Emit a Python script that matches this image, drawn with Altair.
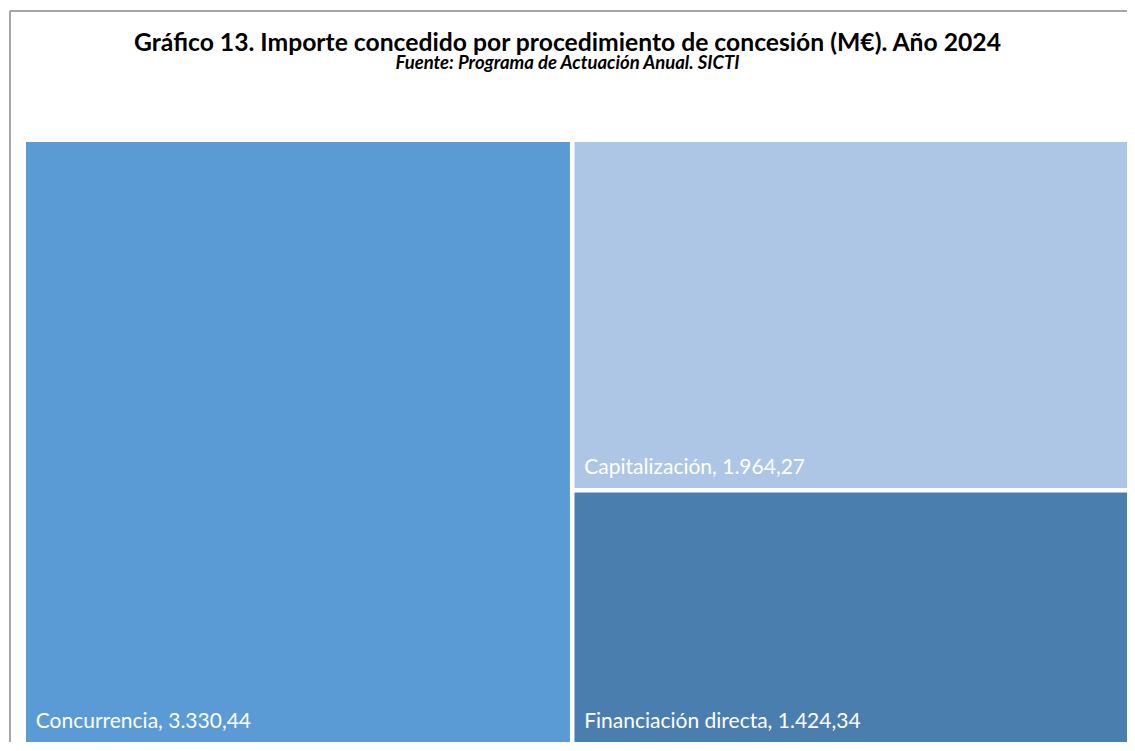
import altair as alt
import pandas as pd

# ---- data ----
categories = ["Concurrencia", "Capitalización", "Financiación directa"]
values = [3330.44, 1964.27, 1424.34]
colors = ["#5B9BD5", "#ADC6E5", "#4A7EAF"]

title_text = "Gráfico 13. Importe concedido por procedimiento de concesión (M€). Año 2024"
subtitle_text = "Fuente: Programa de Actuación Anual. SICTI"


def fmt_es(v):
    s = f"{v:,.2f}"
    return s.replace(",", "X").replace(".", ",").replace("X", ".")


# ---- slice-and-dice treemap layout computed from the values ----
total = sum(values)
right_total = values[1] + values[2]
split = values[1] / right_total
df = pd.DataFrame({
    "cat": categories,
    "value": values,
    "x0": [0, values[0], values[0]],
    "x1": [values[0], total, total],
    "y0": [0, 0, split],
    "y1": [1, split, 1],
    "label": [f"{c}, {fmt_es(v)}" for c, v in zip(categories, values)],
})

W, H = 1119, 734
xscale = alt.Scale(domain=[0, total], range=[15.75, 1122.25], nice=False, zero=False)
yscale = alt.Scale(domain=[0, 1], range=[131.75, 736.25], nice=False, zero=False)

base = alt.Chart(df)

rects = base.mark_rect(stroke="white", strokeWidth=4.5).encode(
    x=alt.X("x0:Q", scale=xscale, axis=None),
    x2="x1:Q",
    y=alt.Y("y0:Q", scale=yscale, axis=None),
    y2="y1:Q",
    color=alt.Color("cat:N", scale=alt.Scale(domain=categories, range=colors), legend=None),
    tooltip=["cat:N", "value:Q"],
)

labels = base.mark_text(
    align="left", baseline="alphabetic", dx=12, dy=-16,
    color="white", font="Lato", fontSize=21,
).encode(
    x=alt.X("x0:Q", scale=xscale, axis=None),
    y=alt.Y("y1:Q", scale=yscale, axis=None),
    text="label:N",
)

# decorative frame (top and left edges of the chart border)
frame_df = pd.DataFrame({"k": [0]})
frame_top = alt.Chart(frame_df).mark_rule(color="#A6A6A6", strokeWidth=2).encode(
    x=alt.value(2), x2=alt.value(W), y=alt.value(3)
)
frame_left = alt.Chart(frame_df).mark_rule(color="#A6A6A6", strokeWidth=2).encode(
    x=alt.value(2), y=alt.value(3), y2=alt.value(H)
)

chart = (frame_top + frame_left + rects + labels).properties(
    width=W,
    height=H,
    padding={"left": 0, "top": 0, "right": 0, "bottom": 0},
    autosize="none",
    title=alt.TitleParams(
        text=title_text,
        subtitle=subtitle_text,
        font="Lato", fontSize=24.7, fontWeight="bold", color="black",
        subtitleFont="Lato", subtitleFontSize=18.5, subtitleFontStyle="italic",
        subtitleFontWeight="bold", subtitleColor="black",
        anchor="middle", offset=-64, dx=0, subtitlePadding=-2,
    ),
).configure_view(stroke=None)

chart.save("out.html", embed_options={"renderer": "svg", "actions": False})
